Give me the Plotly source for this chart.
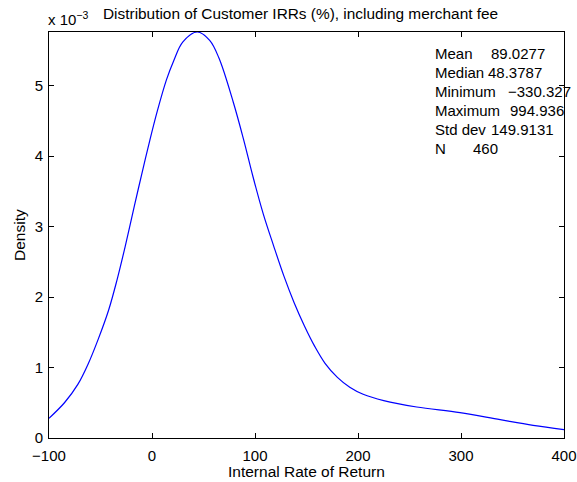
import plotly.graph_objects as go

# Kernel density estimate (density in units of 1e-3)
irr = [-100, -85, -72, -62, -52, -42, -34, -26, -17, -10, -2, 5, 14, 21, 30, 44,
       56, 65, 79, 89, 98, 108, 118, 128, 138, 148, 158, 168, 180, 192, 205,
       225, 257, 299, 338, 370, 400]
density_e3 = [0.28, 0.50, 0.76, 1.05, 1.41, 1.82, 2.24, 2.72, 3.30, 3.74, 4.23, 4.63,
              5.08, 5.35, 5.62, 5.76, 5.64, 5.39, 4.76, 4.23, 3.71, 3.18, 2.73, 2.30,
              1.92, 1.59, 1.30, 1.06, 0.86, 0.72, 0.62, 0.53, 0.44, 0.36, 0.26,
              0.18, 0.12]

x_ticks = [-100, 0, 100, 200, 300, 400]
x_ticktext = ["\u2212100", "0", "100", "200", "300", "400"]
y_ticks = [0, 1, 2, 3, 4, 5]
y_ticktext = ["0", "1", "2", "3", "4", "5"]

stat_names = ["Mean", "Median", "Minimum", "Maximum", "Std dev", "N"]
stat_values = ["89.0277", "48.3787", "\u2212330.327", "994.936", "149.9131", "460"]
stat_value_x = [492, 489.5, 509, 511, 492, 474]

title = "Distribution of Customer IRRs (%), including merchant fee"

W, H = 577, 482
L, R, T, B = 49, 13, 32, 44
FONT = "Liberation Sans, Arial, Helvetica, sans-serif"
FS = 15
PAD = 3.5  # annotation box padding before the first glyph

fig = go.Figure()
fig.add_trace(go.Scatter(x=irr, y=density_e3, mode="lines",
                         line=dict(color="#0000ff", width=1.2, shape="spline", smoothing=1.0),
                         hoverinfo="skip", showlegend=False))

axis_common = dict(showline=True, linecolor="black", linewidth=1, mirror="allticks",
                   ticks="inside", ticklen=5, tickcolor="black", tickwidth=1,
                   showgrid=False, zeroline=False, automargin=False,
                   tickfont=dict(family=FONT, size=FS, color="black"))

fig.update_xaxes(range=[-100, 400], tickvals=x_ticks, ticktext=x_ticktext,
                 ticklabelstandoff=4, **axis_common)
fig.update_yaxes(range=[0, 5.76], tickvals=y_ticks, ticktext=y_ticktext,
                 ticklabelstandoff=2, **axis_common)

def px_x(p):
    return (p - L) / (W - L - R)

def px_y(p):
    return 1 - (p - T) / (H - T - B)

def label(text, x, y, xanchor="left", size=FS, angle=0):
    return dict(text=text, x=px_x(x), y=px_y(y), xref="paper", yref="paper",
                xanchor=xanchor, yanchor="middle", showarrow=False, textangle=angle,
                font=dict(family=FONT, size=size, color="black"))

ann = [
    label(title, 300, 14, "center", 15.4),
    label("x 10<sup>\u22123</sup>", 49 - PAD, 19),
    label("Internal Rate of Return", 306.5, 471, "center", 15.5),
    label("Density", 19, 235, "center", 15.5, angle=-90),
]
for i, (n, v) in enumerate(zip(stat_names, stat_values)):
    yy = 53 + i * 19.0
    ann.append(label(n, 436.5 - PAD, yy, size=15))
    ann.append(label(v, stat_value_x[i] - PAD, yy, size=15))

fig.update_layout(width=W, height=H, margin=dict(l=L, r=R, t=T, b=B, pad=0),
                  plot_bgcolor="white", paper_bgcolor="white",
                  font=dict(family=FONT, size=FS, color="black"),
                  annotations=ann)

fig.write_html("out.html")
